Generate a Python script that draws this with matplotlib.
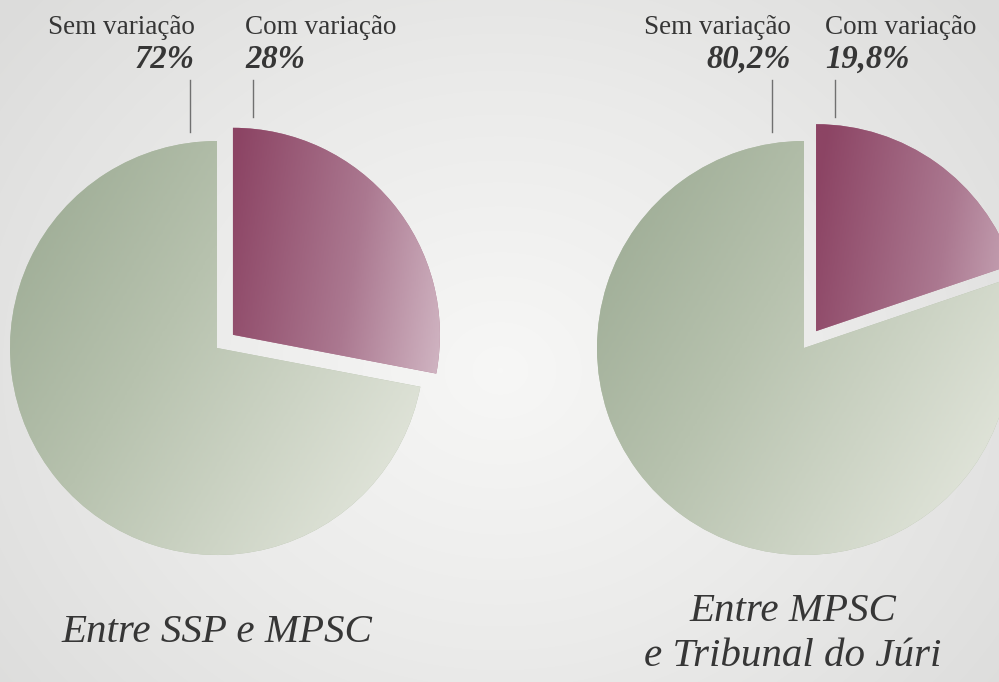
import numpy as np
import matplotlib
matplotlib.use("Agg")
from matplotlib import pyplot as plt
from matplotlib.colors import LinearSegmentedColormap

# data
titles = ["Entre SSP e MPSC", "Entre MPSC\ne Tribunal do Júri"]
labels = ["Com variação", "Sem variação"]
com_var = [28, 19.8]
sem_var = [72, 80.2]
pct_text = [["28%", "72%"], ["19,8%", "80,2%"]]

W, H = 999, 682
centers = [(217, H - 348), (804, H - 348)]
radius = 207

fig = plt.figure(figsize=(W / 100, H / 100), dpi=100)
ax = fig.add_axes([0, 0, 1, 1])

# background: soft radial light
yy, xx = np.mgrid[0:H, 0:W]
d = np.sqrt(((xx - 500) / 650.0) ** 2 + ((yy - 370) / 560.0) ** 2)
bg = np.clip(d, 0, 1)
bg_cmap = LinearSegmentedColormap.from_list("bg", ["#f7f7f6", "#ebebea", "#dcdcdb"])
ax.imshow(bg, cmap=bg_cmap, extent=(0, W, 0, H), origin="upper", zorder=0, aspect="auto")

green_cmap = LinearSegmentedColormap.from_list("g", ["#93a38b", "#b7c2ae", "#dfe3d8"])
pink_cmap = LinearSegmentedColormap.from_list("p", ["#8c4464", "#ab7890", "#dcc8d2"])

gx, gy = np.meshgrid(np.linspace(0, 1, 200), np.linspace(0, 1, 200))

for i in range(2):
    cx, cy = centers[i]
    wedges, _ = ax.pie([com_var[i], sem_var[i]], startangle=90, counterclock=False,
                       explode=[0.1 * radius, 0], radius=radius, center=(cx, cy), frame=True,
                       colors=["#b07a92", "#b5c0ab"], wedgeprops=dict(linewidth=0))
    # gradient fills clipped to each wedge
    ext = (cx - radius - 30, cx + radius + 30, cy - radius - 30, cy + radius + 30)
    g_green = np.clip(0.75 * gx + 0.45 * gy, 0, 1)   # dark left/top -> light bottom right
    im = ax.imshow(g_green, cmap=green_cmap, extent=ext, origin="upper", zorder=2, aspect="auto")
    im.set_clip_path(wedges[1])
    g_pink = np.clip((gx - 0.5) * 1.7 + 0.3 * (gy - 0.3), 0, 1)
    im2 = ax.imshow(g_pink, cmap=pink_cmap, extent=ext, origin="upper", zorder=2, aspect="auto")
    im2.set_clip_path(wedges[0])

# label layout per pie
sem_x = [195, 791]
com_x = [245, 825]
sem_line = [190, 772]
com_line = [253, 835]
txt_col = "#363636"
serif = ["Liberation Serif", "DejaVu Serif"]

for i in range(2):
    ax.text(sem_x[i], H - 27, labels[1], ha="right", va="center", fontsize=19.5,
            family=serif, color=txt_col)
    ax.text(com_x[i], H - 27, labels[0], ha="left", va="center", fontsize=19.5,
            family=serif, color=txt_col)
    ax.text(sem_x[i], H - 59, pct_text[i][1], ha="right", va="center", fontsize=23.5,
            family=serif, style="italic", weight="bold", color=txt_col)
    ax.text(com_x[i], H - 59, pct_text[i][0], ha="left", va="center", fontsize=23.5,
            family=serif, style="italic", weight="bold", color=txt_col)
    ax.plot([sem_line[i], sem_line[i]], [H - 80, H - 132], color="#707070", lw=1, zorder=3)
    ax.plot([com_line[i], com_line[i]], [H - 80, H - 117], color="#707070", lw=1, zorder=3)

ax.text(centers[0][0], H - 632, titles[0], ha="center", va="center", fontsize=29.5,
        family=serif, style="italic", color=txt_col)
ax.text(centers[1][0] - 11, H - 634, titles[1], ha="center", va="center", fontsize=29.5,
        family=serif, style="italic", color=txt_col, linespacing=1.3)

ax.set_xlim(0, W)
ax.set_ylim(0, H)
ax.set_aspect("equal")
ax.axis("off")
fig.savefig("out.png", dpi=100)
